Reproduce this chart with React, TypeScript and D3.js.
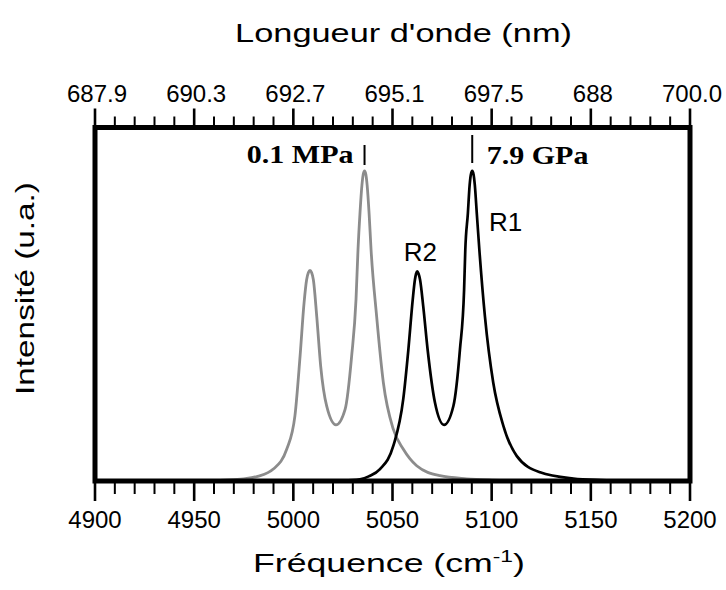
import React, { useLayoutEffect, useRef, useState } from "react";
import * as d3 from "d3";

// Bottom axis: frequency (cm-1)
const FREQ_TICKS = [4900, 4950, 5000, 5050, 5100, 5150, 5200];
// Top axis: wavelength labels (as printed, evenly spaced)
const WAVELENGTH_LABELS = ["687.9", "690.3", "692.7", "695.1", "697.5", "688", "700.0"];

// 0.1 MPa spectrum (gray)
const grayFreq = [4955, 4965, 4975, 4982, 4989.9, 4996.7, 5000.8, 5003.4, 5005.4, 5006.7, 5007.6, 5008.4, 5009.2, 5010.1, 5011.8, 5013.8, 5016.8, 5021.5, 5026.1, 5029.4, 5031.6, 5032.6, 5033.6, 5034.6, 5035.2, 5035.9, 5036.6, 5037.2, 5038.2, 5039.2, 5042.0, 5045.4, 5050.4, 5055.4, 5062.2, 5073.9, 5087.4, 5100, 5115];
const grayInt = [0.001, 0.003, 0.007, 0.015, 0.0385, 0.103, 0.21, 0.403, 0.574, 0.649, 0.672, 0.679, 0.672, 0.649, 0.531, 0.37, 0.242, 0.181, 0.231, 0.403, 0.585, 0.745, 0.863, 0.955, 0.988, 1.0, 0.988, 0.955, 0.863, 0.745, 0.531, 0.317, 0.167, 0.103, 0.049, 0.017, 0.007, 0.003, 0.001];

// 7.9 GPa spectrum (black)
const blackFreq = [5025, 5033.6, 5038, 5043.7, 5050.4, 5055.4, 5058.0, 5060.2, 5061.3, 5061.9, 5062.5, 5063.1, 5063.9, 5065.5, 5067.7, 5071.4, 5076.0, 5080.7, 5084.0, 5086.1, 5086.7, 5088.0, 5088.9, 5089.5, 5090.2, 5090.9, 5091.5, 5092.5, 5093.8, 5096.6, 5100.8, 5105.9, 5112.6, 5124.4, 5141.2, 5155, 5170];
const blackInt = [0.001, 0.005, 0.015, 0.0385, 0.113, 0.263, 0.424, 0.585, 0.649, 0.669, 0.676, 0.669, 0.649, 0.563, 0.424, 0.253, 0.181, 0.242, 0.424, 0.617, 0.745, 0.863, 0.955, 0.988, 1.0, 0.988, 0.955, 0.863, 0.745, 0.531, 0.317, 0.178, 0.081, 0.028, 0.008, 0.003, 0.001];

// Pressure markers (peak R1 positions)
const markerLabels = ["0.1 MPa", "7.9 GPa"];
const markerFreq = [5035.9, 5090.2];

// Peak labels
const peakLabels = ["R2", "R1"];
const peakLabelFreq = [5064, 5107];
const peakLabelInt = [0.71, 0.805];

const W = 726;
const H = 590;
const X0 = 95, X1 = 690, Y0 = 481, Y1 = 127.5;

const SANS = "'Liberation Sans', Arial, sans-serif";
const SERIF = "'Liberation Serif', 'Times New Roman', serif";

function FitText(props: { x: number; y: number; width: number; rotate?: number; anchor?: string; fontSize: number; family: string; weight?: string; children: any }) {
  const ref = useRef<SVGTextElement>(null);
  const [s, setS] = useState(1);
  useLayoutEffect(() => {
    if (ref.current) {
      const w = ref.current.getBBox().width;
      if (w > 0) setS(props.width / w);
    }
  }, []);
  return (
    <g transform={`translate(${props.x},${props.y}) rotate(${props.rotate || 0}) scale(${s},1)`}>
      <text ref={ref} textAnchor={props.anchor || "middle"} fontSize={props.fontSize} fontFamily={props.family} fontWeight={props.weight || "normal"} fill="#000">
        {props.children}
      </text>
    </g>
  );
}

export default function App() {
  const x = d3.scaleLinear().domain([4900, 5200]).range([X0, X1]);
  const y = d3.scaleLinear().domain([0, 1.14]).range([Y0, Y1]);
  const top = d3.scaleLinear().domain([0, WAVELENGTH_LABELS.length - 1]).range([X0, X1]);

  const line = d3
    .line<[number, number]>()
    .x((d) => x(d[0]))
    .y((d) => y(d[1]))
    .curve(d3.curveMonotoneX);

  const grayPts = grayFreq.map((f, i) => [f, grayInt[i]] as [number, number]);
  const blackPts = blackFreq.map((f, i) => [f, blackInt[i]] as [number, number]);

  const minorBottom = d3.range(4900, 5201, 10).filter((v) => v % 50 !== 0);
  const minorTop = d3.range(0, WAVELENGTH_LABELS.length - 1 + 0.001, 0.2).filter((v) => Math.abs(v - Math.round(v)) > 0.01);

  return (
    <svg width={W} height={H} style={{ position: "absolute", left: 0, top: 0, background: "#fff" }}>
      <defs>
        <clipPath id="plot">
          <rect x={X0} y={Y1} width={X1 - X0} height={Y0 - Y1} />
        </clipPath>
      </defs>

      {/* curves */}
      <g clipPath="url(#plot)" fill="none" strokeLinejoin="round">
        <path d={line(grayPts) || ""} stroke="#8c8c8c" strokeWidth={2.8} />
        <path d={line(blackPts) || ""} stroke="#000" strokeWidth={2.7} />
      </g>

      {/* frame */}
      <rect x={X0} y={Y1} width={X1 - X0} height={Y0 - Y1} fill="none" stroke="#000" strokeWidth={5} />

      {/* bottom ticks */}
      {FREQ_TICKS.map((v) => (
        <line key={"bM" + v} x1={x(v)} x2={x(v)} y1={Y0} y2={Y0 + 20} stroke="#000" strokeWidth={2.6} />
      ))}
      {minorBottom.map((v) => (
        <line key={"bm" + v} x1={x(v)} x2={x(v)} y1={Y0} y2={Y0 + 13} stroke="#000" strokeWidth={2} />
      ))}
      {FREQ_TICKS.map((v) => (
        <text key={"bl" + v} x={x(v)} y={528} textAnchor="middle" fontSize={24} fontFamily={SANS}>
          {v}
        </text>
      ))}

      {/* top ticks */}
      {WAVELENGTH_LABELS.map((lab, i) => (
        <line key={"tM" + i} x1={top(i)} x2={top(i)} y1={Y1} y2={Y1 - 19} stroke="#000" strokeWidth={2.6} />
      ))}
      {minorTop.map((v, i) => (
        <line key={"tm" + i} x1={top(v)} x2={top(v)} y1={Y1} y2={Y1 - 11} stroke="#000" strokeWidth={2} />
      ))}
      {WAVELENGTH_LABELS.map((lab, i) => (
        <text key={"tl" + i} x={top(i) + 2} y={102} textAnchor="middle" fontSize={24} fontFamily={SANS}>
          {lab}
        </text>
      ))}

      {/* axis titles */}
      <FitText x={403.5} y={42} width={337} fontSize={25} family={SANS}>
        Longueur d'onde (nm)
      </FitText>
      <FitText x={389} y={572} width={272} fontSize={25} family={SANS}>
        Fréquence (cm<tspan fontSize={16} dy={-10}>-1</tspan>
        <tspan dy={10}>)</tspan>
      </FitText>
      <FitText x={34} y={288.5} width={213} rotate={-90} fontSize={25} family={SANS}>
        Intensité (u.a.)
      </FitText>

      {/* pressure markers */}
      <line x1={x(markerFreq[0])} x2={x(markerFreq[0])} y1={145} y2={165} stroke="#000" strokeWidth={2} />
      <line x1={x(markerFreq[1])} x2={x(markerFreq[1])} y1={135} y2={163} stroke="#000" strokeWidth={2} />
      <FitText x={x(markerFreq[0]) - 11} y={162.5} width={106.7} anchor="end" fontSize={26} family={SERIF} weight="bold">
        {markerLabels[0]}
      </FitText>
      <FitText x={x(markerFreq[1]) + 14.5} y={163.5} width={101.7} anchor="start" fontSize={26} family={SERIF} weight="bold">
        {markerLabels[1]}
      </FitText>

      {/* peak labels */}
      {peakLabels.map((lab, i) => (
        <text key={lab} x={x(peakLabelFreq[i])} y={y(peakLabelInt[i])} textAnchor="middle" fontSize={26} fontFamily={SANS}>
          {lab}
        </text>
      ))}
    </svg>
  );
}
